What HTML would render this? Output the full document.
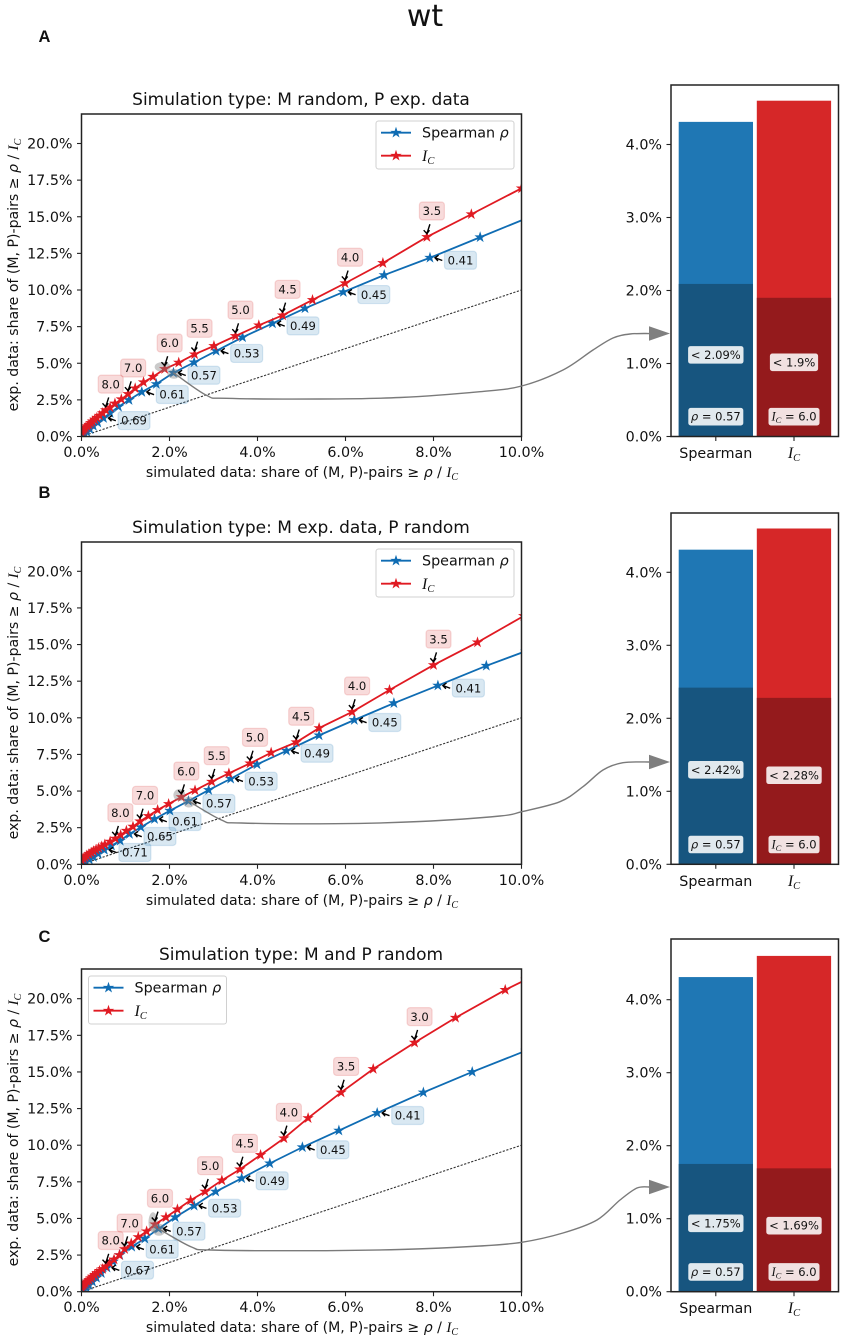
<!DOCTYPE html>
<html lang="en">
<head>
<meta charset="utf-8">
<title>wt</title>
<style>
html,body{margin:0;padding:0;background:#fff;}
svg{display:block;}
text{font-family:"DejaVu Sans","Liberation Sans",sans-serif;fill:#111;}
.ttl{font-size:17px;text-anchor:middle;}
.lab{font-size:14.1px;text-anchor:middle;}
.leg{font-size:14.3px;}
.it{font-family:"Liberation Serif",serif;font-style:italic;}
.ob{font-style:italic;}
.tick{font-size:14.3px;}
.pl{font-size:11.6px;text-anchor:middle;}
.bl{font-size:11.5px;text-anchor:middle;}
</style>
</head>
<body>
<svg id="fig" xmlns="http://www.w3.org/2000/svg" width="842" height="1339" viewBox="0 0 842 1339">
  <rect width="842" height="1339" fill="#fff"/>
  <text x="425" y="26" font-size="30" text-anchor="middle">wt</text>
  <text x="38.5" y="42" style="font-family:'Liberation Sans',sans-serif;font-weight:bold;font-size:16.5px">A</text>
  <text x="38.5" y="498" style="font-family:'Liberation Sans',sans-serif;font-weight:bold;font-size:16.5px">B</text>
  <text x="38.5" y="942" style="font-family:'Liberation Sans',sans-serif;font-weight:bold;font-size:16.5px">C</text>

  <g id="marks"></g>

  <!-- Panel A static text -->
  <g>
    <text class="ttl" x="301" y="105">Simulation type: M random, P exp. data</text>
    <text class="lab" x="302" y="477">simulated data: share of (M, P)-pairs ≥ <tspan class="ob">ρ</tspan> / <tspan class="it" font-size="15">I</tspan><tspan class="it" font-size="10" dy="3">C</tspan></text>
    <text class="lab" transform="translate(18,275) rotate(-90)">exp. data: share of (M, P)-pairs ≥ <tspan class="ob">ρ</tspan> / <tspan class="it" font-size="15">I</tspan><tspan class="it" font-size="10" dy="3">C</tspan></text>
    <g transform="translate(376,121)">
      <rect x="0" y="0" width="138" height="48" rx="2.5" fill="#fff" fill-opacity=".85" stroke="#d0d0d0"/>
      <line x1="5" x2="35" y1="11.7" y2="11.7" stroke="#0f6cb3" stroke-width="1.8"/>
      <polygon transform="translate(20,11.7) scale(1.2)" fill="#0f6cb3" points="0,-5 1.12,-1.55 4.76,-1.55 1.82,.59 2.94,4.05 0,1.91 -2.94,4.05 -1.82,.59 -4.76,-1.55 -1.12,-1.55"/>
      <text class="leg" x="46" y="16.5">Spearman <tspan class="ob">ρ</tspan></text>
      <line x1="5" x2="35" y1="34.7" y2="34.7" stroke="#e01a22" stroke-width="1.8"/>
      <polygon transform="translate(20,34.7) scale(1.2)" fill="#e01a22" points="0,-5 1.12,-1.55 4.76,-1.55 1.82,.59 2.94,4.05 0,1.91 -2.94,4.05 -1.82,.59 -4.76,-1.55 -1.12,-1.55"/>
      <text class="leg" x="46" y="40"><tspan class="it" font-size="16">I</tspan><tspan class="it" font-size="10.5" dy="3">C</tspan></text>
    </g>
  </g>

  <!-- Panel B static text -->
  <g>
    <text class="ttl" x="301" y="533">Simulation type: M exp. data, P random</text>
    <text class="lab" x="302" y="905">simulated data: share of (M, P)-pairs ≥ <tspan class="ob">ρ</tspan> / <tspan class="it" font-size="15">I</tspan><tspan class="it" font-size="10" dy="3">C</tspan></text>
    <text class="lab" transform="translate(18,703) rotate(-90)">exp. data: share of (M, P)-pairs ≥ <tspan class="ob">ρ</tspan> / <tspan class="it" font-size="15">I</tspan><tspan class="it" font-size="10" dy="3">C</tspan></text>
    <g transform="translate(376,549)">
      <rect x="0" y="0" width="138" height="48" rx="2.5" fill="#fff" fill-opacity=".85" stroke="#d0d0d0"/>
      <line x1="5" x2="35" y1="11.7" y2="11.7" stroke="#0f6cb3" stroke-width="1.8"/>
      <polygon transform="translate(20,11.7) scale(1.2)" fill="#0f6cb3" points="0,-5 1.12,-1.55 4.76,-1.55 1.82,.59 2.94,4.05 0,1.91 -2.94,4.05 -1.82,.59 -4.76,-1.55 -1.12,-1.55"/>
      <text class="leg" x="46" y="16.5">Spearman <tspan class="ob">ρ</tspan></text>
      <line x1="5" x2="35" y1="34.7" y2="34.7" stroke="#e01a22" stroke-width="1.8"/>
      <polygon transform="translate(20,34.7) scale(1.2)" fill="#e01a22" points="0,-5 1.12,-1.55 4.76,-1.55 1.82,.59 2.94,4.05 0,1.91 -2.94,4.05 -1.82,.59 -4.76,-1.55 -1.12,-1.55"/>
      <text class="leg" x="46" y="40"><tspan class="it" font-size="16">I</tspan><tspan class="it" font-size="10.5" dy="3">C</tspan></text>
    </g>
  </g>

  <!-- Panel C static text -->
  <g>
    <text class="ttl" x="301" y="960">Simulation type: M and P random</text>
    <text class="lab" x="302" y="1332">simulated data: share of (M, P)-pairs ≥ <tspan class="ob">ρ</tspan> / <tspan class="it" font-size="15">I</tspan><tspan class="it" font-size="10" dy="3">C</tspan></text>
    <text class="lab" transform="translate(18,1130) rotate(-90)">exp. data: share of (M, P)-pairs ≥ <tspan class="ob">ρ</tspan> / <tspan class="it" font-size="15">I</tspan><tspan class="it" font-size="10" dy="3">C</tspan></text>
    <g transform="translate(88.5,976)">
      <rect x="0" y="0" width="138" height="48" rx="2.5" fill="#fff" fill-opacity=".85" stroke="#d0d0d0"/>
      <line x1="5" x2="35" y1="11.7" y2="11.7" stroke="#0f6cb3" stroke-width="1.8"/>
      <polygon transform="translate(20,11.7) scale(1.2)" fill="#0f6cb3" points="0,-5 1.12,-1.55 4.76,-1.55 1.82,.59 2.94,4.05 0,1.91 -2.94,4.05 -1.82,.59 -4.76,-1.55 -1.12,-1.55"/>
      <text class="leg" x="46" y="16.5">Spearman <tspan class="ob">ρ</tspan></text>
      <line x1="5" x2="35" y1="34.7" y2="34.7" stroke="#e01a22" stroke-width="1.8"/>
      <polygon transform="translate(20,34.7) scale(1.2)" fill="#e01a22" points="0,-5 1.12,-1.55 4.76,-1.55 1.82,.59 2.94,4.05 0,1.91 -2.94,4.05 -1.82,.59 -4.76,-1.55 -1.12,-1.55"/>
      <text class="leg" x="46" y="40"><tspan class="it" font-size="16">I</tspan><tspan class="it" font-size="10.5" dy="3">C</tspan></text>
    </g>
  </g>
</svg>
<script>
// Threshold levels along each curve, in ascending-x order
const spearmanLevels = [0.81,0.79,0.77,0.75,0.73,0.71,0.69,0.67,0.65,0.63,0.61,0.59,0.57,0.55,0.53,0.51,0.49,0.47,0.45,0.43,0.41,0.39,0.37,0.35];
const icLevels = [11,10.75,10.5,10.25,10,9.75,9.5,9.25,9,8.75,8.5,8.25,8,7.75,7.5,7.25,7,6.75,6.5,6.25,6,5.75,5.5,5.25,5,4.75,4.5,4.25,4,3.75,3.5,3.25,3,2.75,2.5,2.25];

// Panel A
const aSpearmanX = [0.03,0.07,0.12,0.19,0.27,0.37,0.5,0.65,0.84,1.08,1.37,1.7,2.09,2.56,3.06,3.66,4.34,5.08,5.95,6.88,7.92,9.06,10.2];
const aSpearmanY = [0.08,0.17,0.32,0.5,0.72,0.95,1.26,1.6,2.03,2.49,3.04,3.58,4.35,5.06,5.84,6.77,7.72,8.75,9.86,11.02,12.2,13.6,15.0];
const aIcX = [0,0.03,0.06,0.09,0.13,0.17,0.21,0.25,0.3,0.35,0.41,0.48,0.55,0.65,0.76,0.905,1.06,1.22,1.41,1.625,1.89,2.21,2.57,3.01,3.5,4.03,4.57,5.25,5.99,6.85,7.85,8.86,10.0];
const aIcY = [0.3,0.4,0.5,0.6,0.7,0.8,0.92,1.03,1.15,1.28,1.42,1.6,1.8,1.98,2.25,2.54,2.9,3.29,3.7,4.08,4.61,5.04,5.61,6.18,6.86,7.59,8.27,9.32,10.46,11.84,13.62,15.17,16.94];
const aSpearmanLabels = [0.69,0.61,0.57,0.53,0.49,0.45,0.41];
const aIcLabels = [8,7,6,5.5,5,4.5,4,3.5];
const aBarTotals = [4.31,4.6];
const aBarShares = [2.09,1.9];

// Panel B
const bSpearmanX = [0.05,0.1,0.18,0.27,0.38,0.52,0.68,0.88,1.09,1.35,1.66,2.01,2.43,2.89,3.39,3.99,4.66,5.4,6.2,7.1,8.1,9.2,10.1];
const bSpearmanY = [0.09,0.18,0.32,0.5,0.72,0.98,1.27,1.61,2.07,2.53,3.09,3.66,4.32,5.07,5.84,6.82,7.75,8.8,9.85,11.0,12.2,13.55,14.55];
const bIcX = [0,0.04,0.08,0.12,0.17,0.22,0.27,0.33,0.39,0.46,0.53,0.65,0.77,0.89,1.02,1.17,1.33,1.52,1.73,1.98,2.27,2.58,2.96,3.35,3.83,4.31,4.88,5.4,6.15,7.0,8.0,9.0,10.05];
const bIcY = [0.3,0.4,0.5,0.6,0.7,0.8,0.9,1.0,1.1,1.22,1.35,1.55,1.75,2.0,2.29,2.57,2.93,3.3,3.71,4.12,4.59,5.05,5.64,6.21,6.89,7.62,8.33,9.3,10.4,11.9,13.6,15.15,16.95];
const bSpearmanLabels = [0.71,0.65,0.61,0.57,0.53,0.49,0.45,0.41];
const bIcLabels = [8,7,6,5.5,5,4.5,4,3.5];
const bBarTotals = [4.31,4.6];
const bBarShares = [2.42,2.28];

// Panel C
const cSpearmanX = [0.03,0.06,0.11,0.17,0.25,0.34,0.45,0.58,0.72,0.87,1.14,1.44,1.75,2.13,2.56,3.05,3.64,4.28,5.02,5.85,6.72,7.77,8.88,10.1];
const cSpearmanY = [0.07,0.14,0.27,0.45,0.68,0.95,1.27,1.64,2.05,2.5,3.07,3.62,4.3,5.08,5.87,6.83,7.74,8.76,9.86,11.0,12.2,13.6,15.0,16.45];
const cIcX = [0,0.03,0.06,0.09,0.13,0.17,0.21,0.25,0.3,0.35,0.41,0.48,0.55,0.64,0.74,0.86,0.98,1.13,1.29,1.48,1.67,1.92,2.18,2.48,2.81,3.19,3.6,4.07,4.6,5.15,5.9,6.63,7.57,8.5,9.63,10.1];
const cIcY = [0.3,0.4,0.5,0.6,0.7,0.8,0.92,1.03,1.15,1.28,1.42,1.55,1.72,1.95,2.2,2.5,2.91,3.3,3.73,4.12,4.6,5.08,5.62,6.24,6.83,7.6,8.35,9.33,10.47,11.85,13.6,15.2,17.0,18.7,20.6,21.3];
const cSpearmanLabels = [0.67,0.61,0.57,0.53,0.49,0.45,0.41];
const cIcLabels = [8,7,6,5,4.5,4,3.5,3];
const cBarTotals = [4.31,4.6];
const cBarShares = [1.75,1.69];

// Axis ticks
const xTicks = [0,2,4,6,8,10];
const yTicks = [0,2.5,5,7.5,10,12.5,15,17.5,20];
const barTicks = [0,1,2,3,4];
const highlightSpearman = 0.57;
const highlightIc = 6;

const NS = 'http://www.w3.org/2000/svg';
const STAR = '0,-5 1.12,-1.55 4.76,-1.55 1.82,.59 2.94,4.05 0,1.91 -2.94,4.05 -1.82,.59 -4.76,-1.55 -1.12,-1.55';
const root = document.getElementById('marks');

function mk(parent, tag, attrs, txt) {
  const el = document.createElementNS(NS, tag);
  for (const k in attrs) el.setAttribute(k, attrs[k]);
  if (txt !== undefined) el.textContent = txt;
  parent.appendChild(el);
  return el;
}
function labelPct(v, d) { return v.toFixed(d) + '%'; }

// Smooth path through a list of screen points
function smoothPath(pts) {
  let d = 'M' + pts[0][0] + ',' + pts[0][1];
  for (let i = 0; i < pts.length - 1; i++) {
    const p0 = pts[Math.max(i - 1, 0)], p1 = pts[i], p2 = pts[i + 1], p3 = pts[Math.min(i + 2, pts.length - 1)];
    const c1x = p1[0] + (p2[0] - p0[0]) / 6, c1y = p1[1] + (p2[1] - p0[1]) / 6;
    const c2x = p2[0] - (p3[0] - p1[0]) / 6, c2y = p2[1] - (p3[1] - p1[1]) / 6;
    d += ' C' + c1x + ',' + c1y + ' ' + c2x + ',' + c2y + ' ' + p2[0] + ',' + p2[1];
  }
  return d;
}

function drawScatter(p) {
  const g = mk(root, 'g', {});
  
  
  const L = 81.5, R = 521.5, T = p.top, B = p.zero;
  const sx = v => L + v * 44;
  const sy = v => B - v * 14.65;
  const clipId = 'clip-' + p.id;
  const defs = mk(g, 'defs', {});
  const cp = mk(defs, 'clipPath', {id: clipId});
  mk(cp, 'rect', {x: L, y: T, width: R - L, height: B - T});

  const dotted = mk(g, 'line', {x1: sx(0), y1: sy(0), x2: sx(10), y2: sy(10), stroke: '#333', 'stroke-width': 1.1, 'stroke-dasharray': '2.2 1.5'});
  
  

  const plotArea = mk(g, 'g', {'clip-path': 'url(#' + clipId + ')'});
  
  

  function series(xs, ys, color, name) {
    const line = mk(plotArea, 'polyline', {points: xs.map((x, i) => sx(x) + ',' + sy(ys[i])).join(' '), fill: 'none', stroke: color, 'stroke-width': 1.8});
    
    
    xs.forEach((x, i) => {
      const s = mk(plotArea, 'polygon', {points: STAR, fill: color, transform: 'translate(' + sx(x) + ',' + sy(ys[i]) + ') scale(1.2)'});
      
      
    });
  }
  series(p.sx, p.sy, '#0f6cb3', 'spearman');
  series(p.ix, p.iy, '#e01a22', 'ic');

  // Grey highlight ellipses on the chosen thresholds
  const si = spearmanLevels.indexOf(highlightSpearman);
  const ii = icLevels.indexOf(highlightIc);
  const hs = mk(g, 'ellipse', {cx: sx(p.sx[si]) + 0.5, cy: sy(p.sy[si]) + 1, rx: p.sRx, ry: p.sRy, fill: '#808080', 'fill-opacity': .42});
  
  
  const hi = mk(g, 'ellipse', {cx: sx(p.ix[ii]) - 2, cy: sy(p.iy[ii]) - 2, rx: p.iRx, ry: p.iRy, fill: '#808080', 'fill-opacity': .42});
  
  

  // Spearman annotations
  p.sLabels.forEach(v => {
    const i = spearmanLevels.indexOf(v);
    const x = sx(p.sx[i]), y = sy(p.sy[i]);
    const a = mk(g, 'g', {});
    
    
    mk(a, 'rect', {x: x + 30.5 - 16, y: y + 2.5 - 9, width: 32, height: 18, rx: 3, fill: '#1f77b4', 'fill-opacity': .17, stroke: '#1f77b4', 'stroke-opacity': .16, 'stroke-width': 1.2});
    mk(a, 'text', {class: 'pl', x: x + 30.5, y: y + 6.7}, v.toFixed(2));
    mk(a, 'path', {d: 'M' + (x + 12.3) + ',' + (y + 2.7) + 'L' + (x + 5) + ',' + y + 'M' + (x + 8.6) + ',' + (y - 2.6) + 'L' + (x + 5) + ',' + y + 'L' + (x + 8) + ',' + (y + 3.2), fill: 'none', stroke: '#000', 'stroke-width': 1.4});
  });
  // Ic annotations
  p.iLabels.forEach(v => {
    const i = icLevels.indexOf(v);
    const x = sx(p.ix[i]), y = sy(p.iy[i]);
    const a = mk(g, 'g', {});
    
    
    mk(a, 'rect', {x: x + 5 - 12.5, y: y - 26 - 9, width: 25, height: 18, rx: 3, fill: '#d62728', 'fill-opacity': .17, stroke: '#d62728', 'stroke-opacity': .16, 'stroke-width': 1.2});
    mk(a, 'text', {class: 'pl', x: x + 5, y: y - 21.8}, v.toFixed(1));
    mk(a, 'path', {d: 'M' + (x + 3) + ',' + (y - 12.7) + 'L' + x + ',' + (y - 3.3) + 'M' + (x - 3.2) + ',' + (y - 6.8) + 'L' + x + ',' + (y - 3.3) + 'L' + (x + 2.6) + ',' + (y - 6.8), fill: 'none', stroke: '#000', 'stroke-width': 1.4});
  });

  // Frame
  const frame = mk(g, 'rect', {x: L, y: T, width: R - L, height: B - T, fill: 'none', stroke: '#222', 'stroke-width': 1.5});
  
  

  // Ticks
  xTicks.forEach(v => {
    const t = mk(g, 'g', {});
    
    
    mk(t, 'line', {x1: sx(v), x2: sx(v), y1: B, y2: B + 4.5, stroke: '#222', 'stroke-width': 1.1});
    mk(t, 'text', {class: 'tick', x: sx(v), y: B + 20.5, 'text-anchor': 'middle'}, labelPct(v, 1));
  });
  yTicks.forEach(v => {
    const t = mk(g, 'g', {});
    
    
    mk(t, 'line', {x1: L - 4.5, x2: L, y1: sy(v), y2: sy(v), stroke: '#222', 'stroke-width': 1.1});
    mk(t, 'text', {class: 'tick', x: L - 9, y: sy(v) + 5, 'text-anchor': 'end'}, labelPct(v, 1));
  });

  // Connector from highlight to bar panel
  const cx0 = sx(p.sx[si]), cy0 = sy(p.sy[si]);
  const f = p.flat, ay = p.arrowY;
  const route = [[cx0, cy0], [cx0 + 33, f - 3.7], [cx0 + 53, f - 0.7], [cx0 + 147, f]].concat(p.route);
  const conn = mk(g, 'path', {d: smoothPath(route), fill: 'none', stroke: '#7a7a7a', 'stroke-width': 1.4});
  
  
  const head = mk(g, 'polygon', {points: '649,' + (ay - 7.3) + ' 670,' + ay + ' 649,' + (ay + 7.3), fill: '#7f7f7f'});
  
  
}

function drawBars(p) {
  const g = mk(root, 'g', {});
  
  
  const L = 671, R = 838.5, B = p.zero, T = p.barTop;
  const sy = v => B - v * 73;
  const left = [678.7, 756.8], w = 74.3, cx = [715.8, 794];
  const light = ['#1f77b4', '#d62728'], dark = ['#17557f', '#941a1c'];
  [0, 1].forEach(i => {
    const b = mk(g, 'rect', {x: left[i], y: sy(p.totals[i]), width: w, height: p.totals[i] * 73, fill: light[i]});
    
    
    const d = mk(g, 'rect', {x: left[i], y: sy(p.shares[i]), width: w, height: p.shares[i] * 73, fill: dark[i]});
    
    

    const str = '< ' + p.shares[i] + '%';
    const bw = str.length * 7.2 + 6;
    const ly = sy(p.shares[i] * 0.535);
    const lab = mk(g, 'g', {});
    
    
    mk(lab, 'rect', {x: cx[i] - bw / 2, y: ly - 9.3, width: bw, height: 18.6, rx: 3, fill: '#fff', 'fill-opacity': .87, stroke: dark[i], 'stroke-width': 1});
    mk(lab, 'text', {class: 'bl', x: cx[i], y: ly + 4}, str);

    const ly2 = B - 19.8;
    const val = mk(g, 'g', {});
    
    
    const vw = i ? 52 : 56;
    mk(val, 'rect', {x: cx[i] - vw / 2, y: ly2 - 9.3, width: vw, height: 18.6, rx: 3, fill: '#fff', 'fill-opacity': .87, stroke: dark[i], 'stroke-width': 1});
    const t = mk(val, 'text', {class: 'bl', x: cx[i], y: ly2 + 4});
    if (i === 0) {
      mk(t, 'tspan', {class: 'ob'}, 'ρ');
      mk(t, 'tspan', {}, ' = ' + highlightSpearman.toFixed(2));
    } else {
      mk(t, 'tspan', {class: 'it', 'font-size': 12.5}, 'I');
      mk(t, 'tspan', {class: 'it', 'font-size': 8.5, dy: 2.5}, 'C');
      mk(t, 'tspan', {dy: -2.5}, ' = ' + highlightIc.toFixed(1));
    }

    const tk = mk(g, 'g', {});
    
    
    mk(tk, 'line', {x1: cx[i], x2: cx[i], y1: B, y2: B + 4.5, stroke: '#222', 'stroke-width': 1.1});
    const ct = mk(tk, 'text', {class: 'tick', x: cx[i], y: B + 21.5, 'text-anchor': 'middle'});
    if (i === 0) {
      mk(ct, 'tspan', {}, 'Spearman');
    } else {
      mk(ct, 'tspan', {class: 'it', 'font-size': 16}, 'I');
      mk(ct, 'tspan', {class: 'it', 'font-size': 10.5, dy: 3}, 'C');
    }
  });
  const frame = mk(g, 'rect', {x: L, y: T, width: R - L, height: B - T, fill: 'none', stroke: '#222', 'stroke-width': 1.5});
  
  
  barTicks.forEach(v => {
    const t = mk(g, 'g', {});
    
    
    mk(t, 'line', {x1: L - 4.5, x2: L, y1: sy(v), y2: sy(v), stroke: '#222', 'stroke-width': 1.1});
    mk(t, 'text', {class: 'tick', x: L - 9, y: sy(v) + 5, 'text-anchor': 'end'}, labelPct(v, 1));
  });
}

const panels = [
  {id: 'panel-a', top: 114, zero: 436.5, barTop: 85, flat: 399, arrowY: 333.5, sRx: 6.5, sRy: 5, iRx: 8, iRy: 5,
   route: [[400,397.5],[480,391.7],[521.7,386],[563,370],[593,350],[613,338],[630,334],[650,333.5]],
   sx: aSpearmanX, sy: aSpearmanY, ix: aIcX, iy: aIcY, sLabels: aSpearmanLabels, iLabels: aIcLabels, totals: aBarTotals, shares: aBarShares},
  {id: 'panel-b', top: 542, zero: 864.3, barTop: 513, flat: 823.7, arrowY: 762, sRx: 6, sRy: 5.5, iRx: 6, iRy: 6,
   route: [[420,821.5],[500,816],[521.7,811.7],[560,801.7],[583,786.7],[603,770],[623,762.7],[650,762]],
   sx: bSpearmanX, sy: bSpearmanY, ix: bIcX, iy: bIcY, sLabels: bSpearmanLabels, iLabels: bIcLabels, totals: bBarTotals, shares: bBarShares},
  {id: 'panel-c', top: 969, zero: 1291.7, barTop: 939, flat: 1250.7, arrowY: 1187, sRx: 6.5, sRy: 6, iRx: 4.5, iRy: 10,
   route: [[400,1249.5],[480,1246],[521.7,1242.3],[563,1233],[597,1220],[620,1200],[637,1188],[650,1187]],
   sx: cSpearmanX, sy: cSpearmanY, ix: cIcX, iy: cIcY, sLabels: cSpearmanLabels, iLabels: cIcLabels, totals: cBarTotals, shares: cBarShares}
];
panels.forEach(p => {
  drawScatter(p);
  drawBars(p);
});
</script>
</body>
</html>
